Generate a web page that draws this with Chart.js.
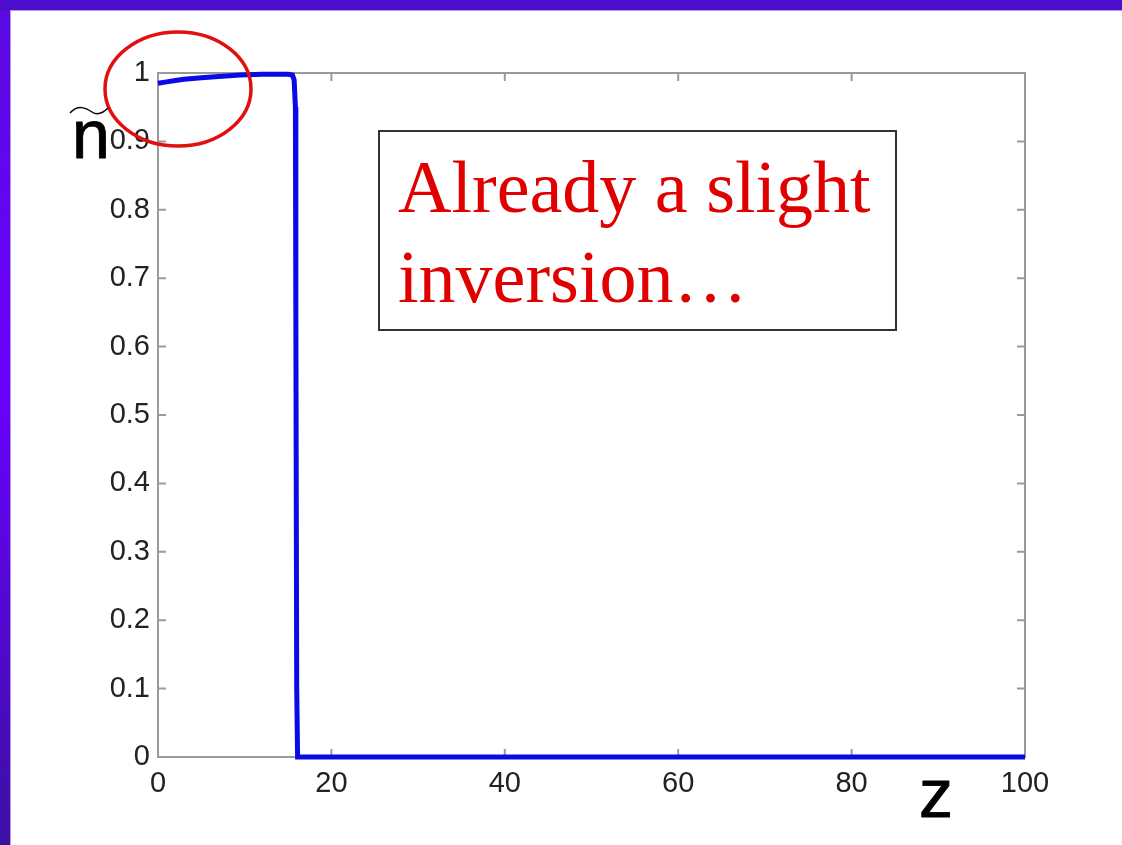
<!DOCTYPE html>
<html>
<head>
<meta charset="utf-8">
<script src="https://cdn.jsdelivr.net/npm/chart.js@4.4.1/dist/chart.umd.min.js"></script>
<style>
  html, body { margin: 0; padding: 0; background: #ffffff; }
  #wrap { width: 1122px; height: 845px; position: relative; }
</style>
</head>
<body>
<div id="wrap"><canvas id="c" width="1122" height="845"></canvas></div>
<script>
// Profile of n~ along z
const zValues = [0, 1, 2, 3, 5, 7, 9.5, 12, 14, 15, 15.5, 15.7, 15.85, 15.9, 16.0, 16.1, 20, 40, 60, 80, 100];
const nValues = [0.985, 0.987, 0.989, 0.991, 0.993, 0.995, 0.997, 0.998, 0.998, 0.998, 0.997, 0.99, 0.95, 0.65, 0.1, 0, 0, 0, 0, 0, 0];

const xTickValues = [0, 20, 40, 60, 80, 100];
const xTickLabels = ['0', '20', '40', '60', '80', '100'];
const yTickValues = [0, 0.1, 0.2, 0.3, 0.4, 0.5, 0.6, 0.7, 0.8, 0.9, 1];
const yTickLabels = ['0', '0.1', '0.2', '0.3', '0.4', '0.5', '0.6', '0.7', '0.8', '0.9', '1'];

const noteLines = ['Already a slight', 'inversion\u2026'];

const tickFont = { family: 'Liberation Sans, Arial, sans-serif', size: 29 };

function labelFor(values, labels, v) {
  for (let i = 0; i < values.length; i++) {
    if (Math.abs(values[i] - v) < 1e-6) return labels[i];
  }
  return '';
}

// MATLAB-style box with inward tick marks on all four sides
const axisBox = {
  id: 'axisBox',
  beforeDraw(chart) {
    const ctx = chart.ctx;
    ctx.save();
    ctx.fillStyle = '#ffffff';
    ctx.fillRect(0, 0, chart.width, chart.height);
    ctx.restore();
  },
  beforeDatasetsDraw(chart) {
    const { ctx, chartArea: a, scales } = chart;
    ctx.save();
    ctx.strokeStyle = '#9a9a9a';
    ctx.lineWidth = 2;
    ctx.strokeRect(a.left, a.top, a.right - a.left, a.bottom - a.top);
    const len = 8;
    ctx.beginPath();
    xTickValues.forEach(v => {
      const px = scales.x.getPixelForValue(v);
      ctx.moveTo(px, a.bottom); ctx.lineTo(px, a.bottom - len);
      ctx.moveTo(px, a.top); ctx.lineTo(px, a.top + len);
    });
    yTickValues.forEach(v => {
      const py = scales.y.getPixelForValue(v);
      ctx.moveTo(a.left, py); ctx.lineTo(a.left + len, py);
      ctx.moveTo(a.right, py); ctx.lineTo(a.right - len, py);
    });
    ctx.stroke();
    ctx.restore();
  },
  afterDraw(chart) {
    const ctx = chart.ctx;
    const W = chart.width, H = chart.height;
    ctx.save();

    // slide frame: top band and left band
    ctx.fillStyle = '#4d0dcc';
    ctx.fillRect(0, 0, W, 10);
    const g = ctx.createLinearGradient(0, 0, 0, H);
    g.addColorStop(0, '#5a0ae0');
    g.addColorStop(0.45, '#6a00ff');
    g.addColorStop(1, '#3c10a4');
    ctx.fillStyle = g;
    ctx.fillRect(0, 10, 10, H - 10);
    ctx.fillStyle = '#b79be6';
    ctx.fillRect(10, 10, W - 10, 1);
    ctx.fillRect(10, 10, 1, H - 10);

    // annotation box
    ctx.fillStyle = '#ffffff';
    ctx.fillRect(379, 131, 517, 199);
    ctx.strokeStyle = '#333333';
    ctx.lineWidth = 2;
    ctx.strokeRect(379, 131, 517, 199);
    ctx.fillStyle = '#e00000';
    ctx.font = '74px "Liberation Serif", "Times New Roman", serif';
    ctx.textBaseline = 'alphabetic';
    ctx.textAlign = 'left';
    ctx.fillText(noteLines[0], 398, 212);
    ctx.fillText(noteLines[1], 398, 302);

    // highlight ellipse
    ctx.strokeStyle = '#e01010';
    ctx.lineWidth = 3.5;
    ctx.beginPath();
    ctx.ellipse(178, 89, 73, 57, 0, 0, Math.PI * 2);
    ctx.stroke();

    // axis symbols
    ctx.fillStyle = '#000000';
    ctx.strokeStyle = '#000000';
    ctx.lineWidth = 0.9;
    ctx.lineJoin = 'round';
    ctx.font = '68px "Liberation Sans", Arial, sans-serif';
    ctx.fillText('n', 72, 158);
    ctx.strokeText('n', 72, 158);
    ctx.fillText('z', 919, 817);
    ctx.strokeText('z', 919, 817);

    // tilde over n
    ctx.lineWidth = 1.5;
    ctx.beginPath();
    ctx.moveTo(70, 113);
    ctx.bezierCurveTo(78, 104, 86, 108, 92, 112);
    ctx.bezierCurveTo(98, 116, 104, 112, 108, 108);
    ctx.stroke();

    ctx.restore();
  }
};

new Chart(document.getElementById('c'), {
  type: 'line',
  data: {
    datasets: [{
      data: zValues.map((z, i) => ({ x: z, y: nValues[i] })),
      borderColor: '#0a0ae8',
      borderWidth: 5,
      pointRadius: 0,
      tension: 0,
      fill: false,
      clip: false
    }]
  },
  options: {
    responsive: false,
    animation: false,
    devicePixelRatio: 1,
    layout: { padding: { top: 73, right: 97, bottom: 38, left: 0 } },
    plugins: { legend: { display: false }, tooltip: { enabled: false } },
    scales: {
      x: {
        type: 'linear',
        min: 0, max: 100,
        afterBuildTicks(scale) { scale.ticks = xTickValues.map(v => ({ value: v })); },
        afterFit(scale) { scale.height = 50; },
        grid: { display: false, drawTicks: false },
        border: { display: false },
        ticks: {
          font: tickFont, color: '#222222', padding: 10, maxRotation: 0,
          callback: v => labelFor(xTickValues, xTickLabels, v)
        }
      },
      y: {
        type: 'linear',
        min: 0, max: 1,
        afterBuildTicks(scale) { scale.ticks = yTickValues.map(v => ({ value: v })); },
        afterFit(scale) { scale.width = 158; },
        grid: { display: false, drawTicks: false },
        border: { display: false },
        ticks: {
          font: tickFont, color: '#222222', padding: 8,
          callback: v => labelFor(yTickValues, yTickLabels, v)
        }
      }
    }
  },
  plugins: [axisBox]
});
</script>
</body>
</html>
